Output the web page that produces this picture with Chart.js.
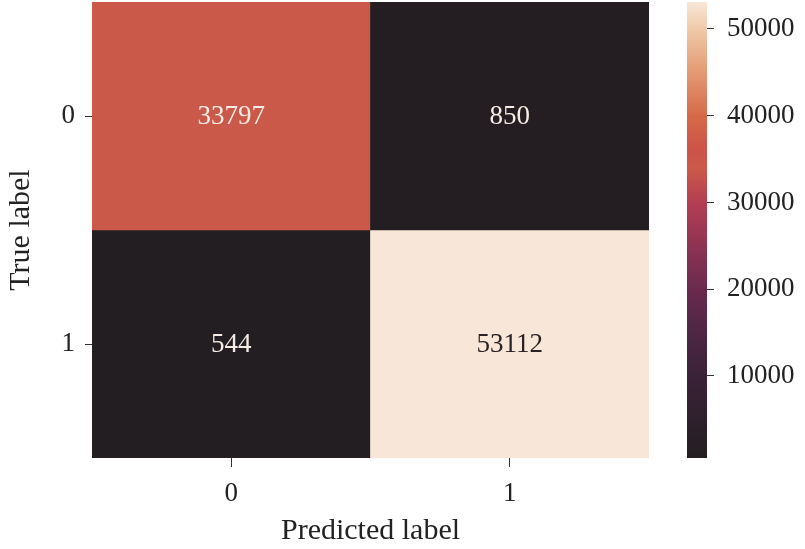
<!DOCTYPE html>
<html>
<head>
<meta charset="utf-8">
<script src="https://cdn.jsdelivr.net/npm/chart.js@4.4.0/dist/chart.umd.min.js"></script>
<style>
  html, body { margin: 0; padding: 0; background: #fff; }
  #wrap { position: relative; width: 805px; height: 549px; }
  #heat { position: absolute; left: 0; top: 0; }
  #bar { position: absolute; left: 680px; top: 0; }
</style>
</head>
<body>
<div id="wrap">
  <canvas id="heat" width="680" height="549"></canvas>
  <canvas id="bar" width="125" height="549"></canvas>
</div>
<script>
// confusion matrix data
var predictedLabels = ["0", "1"];
var trueLabels = ["0", "1"];
var row0 = [33797, 850];
var row1 = [544, 53112];
var matrix = [row0, row1];
var colorbarTicks = [10000, 20000, 30000, 40000, 50000];

var vmin = Math.min.apply(null, row0.concat(row1));
var vmax = Math.max.apply(null, row0.concat(row1));

// colour map stops (value, colour) as seen on the colour bar
var stopValues = [544, 10000, 15000, 20000, 25000, 30000, 34000, 36000, 40000, 45000, 50000, 53112];
var stopColors = ["#231e21", "#3a2238", "#4d2644", "#6a2a4e", "#8f3353", "#b43e53", "#cb5a4a", "#cc5349", "#d66a47", "#e49a74", "#f0caa9", "#f8e7d8"];

var fontName = "'Liberation Serif', 'DejaVu Serif', serif";
var textColor = "#222222";

function hexToRgb(h) {
  return [parseInt(h.substr(1, 2), 16), parseInt(h.substr(3, 2), 16), parseInt(h.substr(5, 2), 16)];
}

function colorFor(v) {
  if (v <= stopValues[0]) return stopColors[0];
  for (var i = 1; i < stopValues.length; i++) {
    if (v <= stopValues[i]) {
      var t = (v - stopValues[i - 1]) / (stopValues[i] - stopValues[i - 1]);
      var a = hexToRgb(stopColors[i - 1]), b = hexToRgb(stopColors[i]);
      var c = a.map(function (x, k) { return Math.round(x + (b[k] - x) * t); });
      return "rgb(" + c.join(",") + ")";
    }
  }
  return stopColors[stopColors.length - 1];
}

function isLight(v) {
  return (v - vmin) / (vmax - vmin) > 0.8;
}

// no extra padding for the first / last tick label
function noPad(s) {
  s.paddingTop = 0;
  s.paddingBottom = 0;
}

var datasets = trueLabels.map(function (lab, i) {
  var bottom = trueLabels.length - 1 - i;
  return {
    label: lab,
    data: predictedLabels.map(function () { return [bottom, bottom + 1]; }),
    values: matrix[i],
    backgroundColor: matrix[i].map(colorFor),
    borderWidth: 0,
    grouped: false,
    barPercentage: 1,
    categoryPercentage: 1
  };
});

var annotate = {
  id: "annotate",
  afterDatasetsDraw: function (chart) {
    var ctx = chart.ctx;
    ctx.save();
    ctx.font = "27px " + fontName;
    ctx.textAlign = "center";
    ctx.textBaseline = "middle";
    chart.data.datasets.forEach(function (ds, di) {
      var meta = chart.getDatasetMeta(di);
      meta.data.forEach(function (el, j) {
        var v = ds.values[j];
        ctx.fillStyle = isLight(v) ? "#2a2224" : "#f6ece6";
        ctx.fillText(String(v), el.x, (el.y + el.base) / 2 + 1);
      });
    });
    ctx.restore();
  }
};

new Chart("heat", {
  type: "bar",
  data: { labels: predictedLabels, datasets: datasets },
  plugins: [annotate],
  options: {
    responsive: false,
    animation: false,
    layout: { padding: { top: 2, right: 31, left: 0, bottom: 0 } },
    plugins: { legend: { display: false }, tooltip: { enabled: false } },
    scales: {
      x: {
        grid: { offset: false, drawOnChartArea: false, drawTicks: true, tickLength: 9, color: "#333" },
        border: { display: false },
        ticks: { color: textColor, font: { family: fontName, size: 27 }, padding: 11 },
        title: { display: true, text: "Predicted label", color: textColor, font: { family: fontName, size: 30 }, padding: { top: 0, bottom: 0 } },
        afterFit: function (s) { s.height = 91; }
      },
      y: {
        type: "linear",
        min: 0,
        max: trueLabels.length,
        afterBuildTicks: function (s) {
          s.ticks = trueLabels.map(function (l, i) { return { value: i + 0.5 }; });
        },
        grid: { drawOnChartArea: false, drawTicks: true, tickLength: 7, color: "#333" },
        border: { display: false },
        ticks: {
          color: textColor,
          font: { family: fontName, size: 27 },
          padding: 10,
          callback: function (v) { return trueLabels[trueLabels.length - 1 - Math.floor(v)]; }
        },
        title: { display: true, text: "True label", color: textColor, font: { family: fontName, size: 30 }, padding: { top: 3, bottom: 0 } },
        afterFit: function (s) { s.width = 92; noPad(s); }
      }
    }
  }
});

// colour bar
new Chart("bar", {
  type: "bar",
  data: {
    labels: [""],
    datasets: [{
      data: [[vmin, vmax]],
      borderWidth: 0,
      barPercentage: 1,
      categoryPercentage: 1,
      backgroundColor: function (c) {
        var chart = c.chart;
        if (!chart.chartArea) return "#000";
        var y = chart.scales.y;
        var g = chart.ctx.createLinearGradient(0, y.getPixelForValue(vmin), 0, y.getPixelForValue(vmax));
        stopValues.forEach(function (v, i) {
          g.addColorStop((v - vmin) / (vmax - vmin), stopColors[i]);
        });
        return g;
      }
    }]
  },
  options: {
    responsive: false,
    animation: false,
    layout: { padding: { top: 2, left: 7, right: 0, bottom: 91 } },
    plugins: { legend: { display: false }, tooltip: { enabled: false } },
    scales: {
      x: { display: false },
      y: {
        position: "right",
        min: vmin,
        max: vmax,
        afterBuildTicks: function (s) {
          s.ticks = colorbarTicks.map(function (v) { return { value: v }; });
        },
        grid: { drawOnChartArea: false, drawTicks: true, tickLength: 7, color: "#333" },
        border: { display: false },
        ticks: {
          color: textColor,
          font: { family: fontName, size: 27 },
          padding: 13,
          callback: function (v) { return String(v); }
        },
        afterFit: function (s) { s.width = 98; noPad(s); }
      }
    }
  }
});
</script>
</body>
</html>
